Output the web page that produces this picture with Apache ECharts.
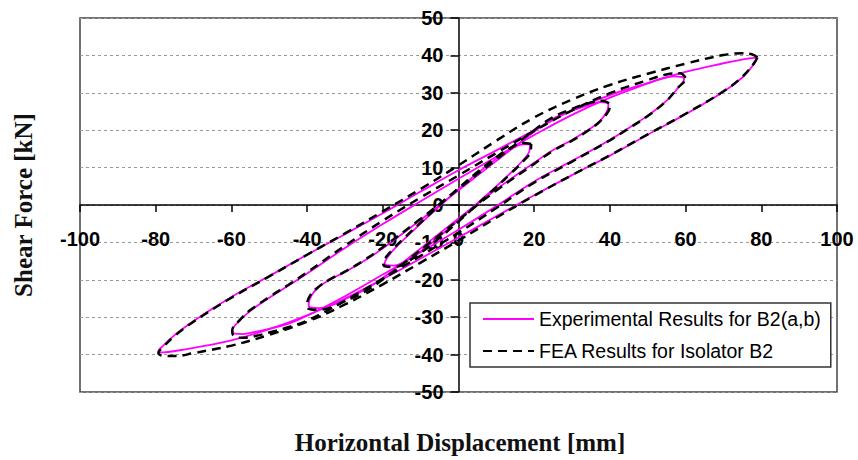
<!DOCTYPE html>
<html>
<head>
<meta charset="utf-8">
<script src="https://cdn.jsdelivr.net/npm/echarts@6/dist/echarts.min.js"></script>
<style>
  html, body { margin: 0; padding: 0; background: #fff; }
  #chart { width: 858px; height: 460px; }
</style>
</head>
<body>
<div id="chart"></div>
<script>
// displacement [mm], shear force [kN], one closed loop per amplitude
const expLoop80 = [
  [79, 39.4], [76, 39.1], [70, 37.9], [60, 35.6], [50, 32.6], [40, 29.4], [30, 25.3], [20, 20], [10, 14.6],
  [0, 9.3], [-10, 3.6], [-20, -2.2], [-30, -7.8], [-40, -13.3], [-50, -19], [-60, -24.6], [-70, -31],
  [-75, -34.8], [-78, -37.6], [-79.3, -39.1],
  [-78, -39.4], [-74, -38.9], [-70, -38.2], [-60, -36.2], [-50, -33.2], [-40, -29.5], [-30, -25], [-20, -19.8],
  [-10, -14.3], [0, -8.7], [10, -3], [20, 2.6], [30, 8], [40, 13.2], [50, 18.8], [60, 24.3], [70, 30.3],
  [75, 34.1], [78, 37.6], [79, 39.4]
];
const expLoop60 = [
  [59.3, 34.2], [57, 34.4], [54, 33.9], [50, 32.5], [40, 28.7], [30, 24.1], [20, 18.7], [10, 12.9], [0, 7],
  [-10, 1], [-20, -5.1], [-30, -11.5], [-40, -18.3], [-45, -21.6], [-50, -24.8], [-55, -28.3], [-58, -31.1],
  [-59.7, -33.4],
  [-59.2, -34.4], [-57, -34.5], [-54, -34], [-50, -33.1], [-45, -31.8], [-40, -29.6], [-30, -24.4], [-20, -18.6],
  [-10, -12.6], [0, -6.6], [10, -0.3], [20, 6.3], [30, 11.8], [40, 17.4], [45, 20.6], [50, 23.9], [55, 27.9],
  [58, 31.3], [59.6, 33.6], [59.3, 34.2]
];
const expLoop40 = [
  [39.4, 27.3], [37.5, 27.5], [35, 26.9], [30, 25.2], [25, 23.1], [20, 19.6], [10, 11.8], [0, 3.9], [-10, -4],
  [-20, -11.6], [-25, -15], [-30, -17.9], [-34, -20], [-37, -22], [-38.9, -24.3], [-39.6, -26.5],
  [-39.2, -27.4], [-37, -27.6], [-34, -27], [-30, -25.2], [-25, -22.8], [-20, -19.5], [-10, -11.6], [0, -3.6],
  [10, 4.2], [20, 11.3], [25, 14.7], [30, 17.4], [34, 19.9], [37, 22.1], [39, 24.6], [39.6, 26.6], [39.4, 27.3]
];
const expLoop20 = [
  [18.9, 16.2], [17, 16.2], [14, 15], [10, 12.4], [5, 8.5], [0, 4.2], [-5, -0.3], [-10, -5], [-14, -8.8],
  [-17, -11.8], [-18.9, -14.2], [-19.5, -15.6],
  [-19, -16.1], [-17, -16.2], [-14, -15], [-10, -12.4], [-5, -8.4], [0, -4], [5, 0.5], [10, 5], [14, 8.8],
  [17, 11.9], [18.7, 14.3], [18.9, 16.2]
];

const feaLoop80 = [
  [79, 39.5], [77.5, 40.3], [75, 40.6], [70, 40.1], [60, 37.8], [50, 35.1], [40, 32.1], [30, 28.2], [20, 23.4],
  [10, 17.2], [0, 10.6], [-10, 4.3], [-20, -1.7], [-30, -7.6], [-40, -13.3], [-50, -19.1], [-60, -24.8],
  [-70, -31.2], [-75, -35], [-78, -37.9], [-79.3, -39.6],
  [-78, -40.3], [-75, -40.4], [-70, -39.6], [-60, -37.6], [-50, -34.7], [-40, -31.2], [-30, -26.6], [-20, -21.2],
  [-10, -15.4], [0, -9.5], [10, -3.4], [20, 2.5], [30, 8], [40, 13.3], [50, 18.9], [60, 24.4], [70, 30.4],
  [75, 34.3], [78, 37.8], [79, 39.5]
];
const feaLoop60 = [
  [60, 34], [58.5, 35.2], [55, 34.9], [50, 33.4], [40, 29.9], [30, 25.3], [20, 19.8], [10, 13.9], [0, 7.9],
  [-10, 2], [-20, -4.2], [-30, -10.9], [-40, -18], [-45, -21.4], [-50, -24.6], [-55, -28.1], [-58, -31],
  [-59.8, -33.6],
  [-59.4, -35], [-57, -35.5], [-54, -35.1], [-50, -34.1], [-45, -32.7], [-40, -30.9], [-30, -25.6], [-20, -19.7],
  [-10, -13.6], [0, -7.4], [10, -0.8], [20, 6], [30, 11.6], [40, 17.3], [45, 20.5], [50, 23.8], [55, 27.9],
  [58, 31.4], [59.9, 33.4], [60, 34]
];
const feaLoop40 = [
  [39.8, 27.2], [38, 27.9], [35, 27.4], [30, 25.7], [25, 23.5], [20, 20], [10, 12.2], [0, 4.3], [-10, -3.7],
  [-20, -11.3], [-25, -14.8], [-30, -17.8], [-34, -19.9], [-37, -21.9], [-39.2, -24.2], [-40, -26.6],
  [-39.7, -27.7], [-37.5, -28], [-34, -27.5], [-30, -25.7], [-25, -23.3], [-20, -19.9], [-10, -12], [0, -4],
  [10, 3.9], [20, 11], [25, 14.5], [30, 17.2], [34, 19.7], [37, 22], [39.3, 24.6], [40, 26.5], [39.8, 27.2]
];
const feaLoop20 = [
  [19.2, 16.3], [17.2, 16.6], [14, 15.4], [10, 12.8], [5, 8.8], [0, 4.5], [-5, 0], [-10, -4.7], [-14, -8.5],
  [-17, -11.5], [-19.2, -14], [-19.9, -15.6],
  [-19.4, -16.4], [-17, -16.6], [-14, -15.4], [-10, -12.8], [-5, -8.8], [0, -4.4], [5, 0.2], [10, 4.8],
  [14, 8.6], [17, 11.6], [19, 14.2], [19.2, 16.3]
];

const expName = "Experimental Results for B2(a,b)";
const feaName = "FEA Results for Isolator B2";

const tickFont = { fontSize: 20, fontWeight: "bold", color: "#000", fontFamily: "Liberation Sans, Arial" };

const expSeries = [expLoop80, expLoop60, expLoop40, expLoop20].map((d) => ({
  name: expName,
  type: "line",
  data: d,
  smooth: 0.4,
  symbol: "none",
  lineStyle: { color: "#ff00ff", width: 1.8 },
  itemStyle: { color: "#ff00ff" },
}));
const feaSeries = [feaLoop80, feaLoop60, feaLoop40, feaLoop20].map((d) => ({
  name: feaName,
  type: "line",
  data: d,
  smooth: 0.4,
  symbol: "none",
  lineStyle: { color: "#000", width: 2.5, type: [9, 6] },
  itemStyle: { color: "#000" },
}));

const myChart = echarts.init(document.getElementById("chart"), null, { renderer: "svg" });
myChart.setOption({
  animation: false,
  backgroundColor: "#fff",
  grid: {
    left: 80, right: 21, top: 18, bottom: 68,
    show: true, borderColor: "#444", borderWidth: 1.5, backgroundColor: "#fff",
  },
  xAxis: {
    type: "value", min: -100, max: 100, interval: 20,
    axisLine: { onZero: false, lineStyle: { color: "#000", width: 1.5 } },
    axisTick: { show: true, length: 7, lineStyle: { color: "#000", width: 1.5 } },
    axisLabel: Object.assign({ margin: 24 }, tickFont),
    splitLine: { show: false },
  },
  yAxis: {
    type: "value", min: -50, max: 50, interval: 10,
    axisLine: { onZero: false, lineStyle: { color: "#000", width: 1.5 } },
    axisTick: { show: true, length: 8, lineStyle: { color: "#000", width: 1.5 } },
    axisLabel: Object.assign({ margin: 15 }, tickFont),
    splitLine: { show: true, lineStyle: { color: "#999", width: 1, type: [3, 3] } },
  },
  legend: {
    data: [expName, feaName],
    orient: "vertical",
    left: 470, top: 303,
    padding: [6, 10, 6, 12],
    itemGap: 12,
    itemWidth: 51, itemHeight: 14,
    itemStyle: { opacity: 0 },
    backgroundColor: "#fff",
    borderColor: "#333", borderWidth: 1.5,
    textStyle: { fontSize: 19.5, color: "#000", fontFamily: "Liberation Sans, Arial" },
  },
  graphic: [
    {
      type: "text", x: 23, y: 205, rotation: Math.PI / 2,
      style: {
        text: "Shear Force [kN]", fill: "#111",
        font: 'bold 25px "Liberation Serif", "Times New Roman", serif',
        align: "center", verticalAlign: "middle",
      },
    },
    {
      type: "text", x: 460, y: 442,
      style: {
        text: "Horizontal Displacement [mm]", fill: "#111",
        font: 'bold 25px "Liberation Serif", "Times New Roman", serif',
        align: "center", verticalAlign: "middle",
      },
    },
  ],
  series: expSeries.concat(feaSeries),
});

// axes cross at the origin: shift both axes (line, ticks, labels) onto the zero lines
const zero = myChart.convertToPixel({ gridIndex: 0 }, [0, 0]);
myChart.setOption({
  xAxis: { offset: zero[1] - (460 - 68) },
  yAxis: { offset: 80 - zero[0] },
});
</script>
</body>
</html>
